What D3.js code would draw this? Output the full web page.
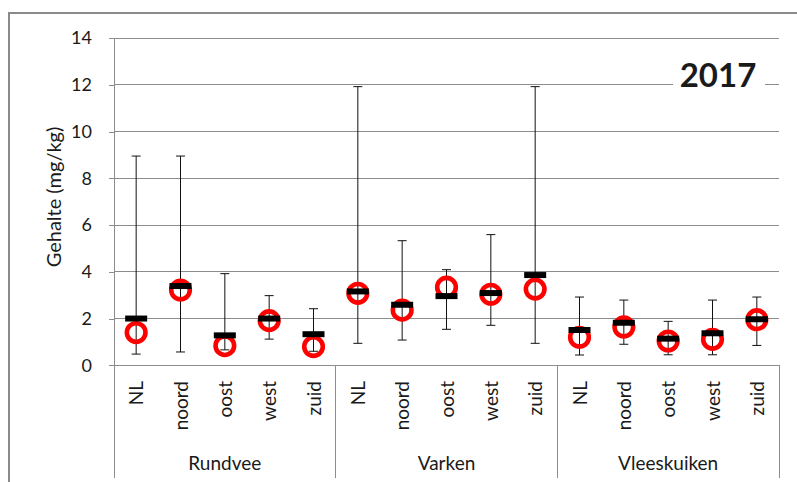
<!DOCTYPE html>
<html>
<head>
<meta charset="utf-8">
<script src="https://cdn.jsdelivr.net/npm/d3@7"></script>
<style>
  html, body { margin: 0; padding: 0; background: #fff; }
  svg { display: block; }
  text { font-family: Lato, "Open Sans", sans-serif; fill: #1a1a1a; }
</style>
</head>
<body>
<svg id="chart" width="797" height="482"></svg>
<script>
// Animal groups and regions
const groups = ["Rundvee", "Varken", "Vleeskuiken"];
const regions = ["NL", "noord", "oost", "west", "zuid"];

// Gehalte (mg/kg) per group × region, in the order above
const maxValues    = [8.95, 8.95, 3.92, 2.98, 2.42,  11.92, 5.33, 4.09, 5.59, 11.92,  2.92, 2.79, 1.88, 2.79, 2.92];
const minValues    = [0.48, 0.57, 0.66, 1.12, 0.60,  0.94, 1.08, 1.54, 1.71, 0.94,    0.44, 0.90, 0.45, 0.45, 0.85];
const medianValues = [2.00, 3.39, 1.28, 2.00, 1.33,  3.16, 2.59, 2.96, 3.09, 3.86,    1.51, 1.82, 1.14, 1.37, 1.97];
const meanValues   = [1.40, 3.22, 0.84, 1.91, 0.80,  3.08, 2.36, 3.34, 3.04, 3.26,    1.20, 1.64, 1.04, 1.11, 1.95];
const yTicks = [0, 2, 4, 6, 8, 10, 12, 14];
const yearLabel = "2017";

const rows = [];
groups.forEach((g, gi) => regions.forEach((r, ri) => {
  const i = gi * regions.length + ri;
  rows.push({ key: g + "|" + r, group: g, region: r,
    max: maxValues[i], min: minValues[i], median: medianValues[i], mean: meanValues[i] });
}));

const svg = d3.select("#chart");
const plotLeft = 114, plotRight = 779, plotTop = 38, plotBottom = 365.3;
const gridColor = "#8c8c8c";

// outer frame
svg.append("rect").attr("x", 9).attr("y", 13).attr("width", 800).attr("height", 480)
  .attr("fill", "none").attr("stroke", "#8a8a8a").attr("stroke-width", 2);

const x = d3.scaleBand().domain(rows.map(d => d.key)).range([plotLeft, plotRight]).padding(0);
const y = d3.scaleLinear().domain([0, 14]).range([plotBottom, plotTop]);

// horizontal gridlines
svg.append("g").selectAll("line").data(yTicks.filter(t => t > 0)).join("line")
  .attr("x1", plotLeft).attr("x2", plotRight)
  .attr("y1", d => y(d)).attr("y2", d => y(d))
  .attr("stroke", gridColor).attr("stroke-width", 1).attr("shape-rendering", "crispEdges");

// y axis
const yAxis = svg.append("g").attr("transform", `translate(${plotLeft},0)`)
  .call(d3.axisLeft(y).tickValues(yTicks).tickSize(5).tickPadding(17));
yAxis.select(".domain").attr("stroke", gridColor).attr("shape-rendering", "crispEdges");
yAxis.selectAll(".tick line").attr("stroke", gridColor).attr("shape-rendering", "crispEdges");
yAxis.selectAll(".tick text").attr("font-family", null).style("font-size", "18px")
  .attr("fill", "#1a1a1a");

// y axis title
svg.append("text").attr("transform", "translate(61,197) rotate(-90)")
  .attr("text-anchor", "middle").style("font-size", "20px").text("Gehalte (mg/kg)");

// x baseline and group separators
svg.append("line").attr("x1", plotLeft).attr("x2", plotRight).attr("y1", plotBottom).attr("y2", plotBottom)
  .attr("stroke", gridColor).attr("shape-rendering", "crispEdges");
const sepX = groups.map(g => x(g + "|" + regions[0])).concat([plotRight]);
svg.append("g").selectAll("line").data(sepX).join("line")
  .attr("x1", d => d).attr("x2", d => d).attr("y1", plotBottom).attr("y2", 478)
  .attr("stroke", gridColor).attr("shape-rendering", "crispEdges");

// region labels (rotated)
svg.append("g").selectAll("text").data(rows).join("text")
  .attr("transform", d => `translate(${x(d.key) + x.bandwidth() / 2 + 7},381) rotate(-90)`)
  .attr("text-anchor", "end").style("font-size", "19px").text(d => d.region);

// group labels
svg.append("g").selectAll("text").data(groups).join("text")
  .attr("x", (g, gi) => (sepX[gi] + sepX[gi + 1]) / 2).attr("y", 470)
  .attr("text-anchor", "middle").style("font-size", "19px").text(d => d);

// whiskers (min to max) with caps
const cx = d => x(d.key) + x.bandwidth() / 2;
const wk = svg.append("g").attr("stroke", "#111").attr("stroke-width", 1);
wk.selectAll(".stem").data(rows).join("line").attr("class", "stem")
  .attr("x1", cx).attr("x2", cx).attr("y1", d => y(d.max)).attr("y2", d => y(d.min));
wk.selectAll(".capTop").data(rows).join("line").attr("class", "capTop")
  .attr("x1", d => cx(d) - 4.5).attr("x2", d => cx(d) + 4.5)
  .attr("y1", d => y(d.max)).attr("y2", d => y(d.max));
wk.selectAll(".capBot").data(rows).join("line").attr("class", "capBot")
  .attr("x1", d => cx(d) - 4.5).attr("x2", d => cx(d) + 4.5)
  .attr("y1", d => y(d.min)).attr("y2", d => y(d.min));

// mean markers (red rings)
svg.append("g").selectAll("circle").data(rows).join("circle")
  .attr("cx", cx).attr("cy", d => y(d.mean)).attr("r", 9.3)
  .attr("fill", "none").attr("stroke", "#ff0000").attr("stroke-width", 4.6);

// median markers (black bars)
svg.append("g").selectAll("rect").data(rows).join("rect")
  .attr("x", d => cx(d) - 11).attr("y", d => y(d.median) - 3)
  .attr("width", 22).attr("height", 6).attr("fill", "#000");

// year label
const yr = svg.append("g");
yr.append("rect").attr("x", 673).attr("y", 60).attr("width", 92).attr("height", 32).attr("fill", "#fff");
yr.append("text").attr("x", 718).attr("y", 87).attr("text-anchor", "middle")
  .style("font-size", "33px").attr("font-weight", "bold").attr("fill", "#000").text(yearLabel);
</script>
</body>
</html>
